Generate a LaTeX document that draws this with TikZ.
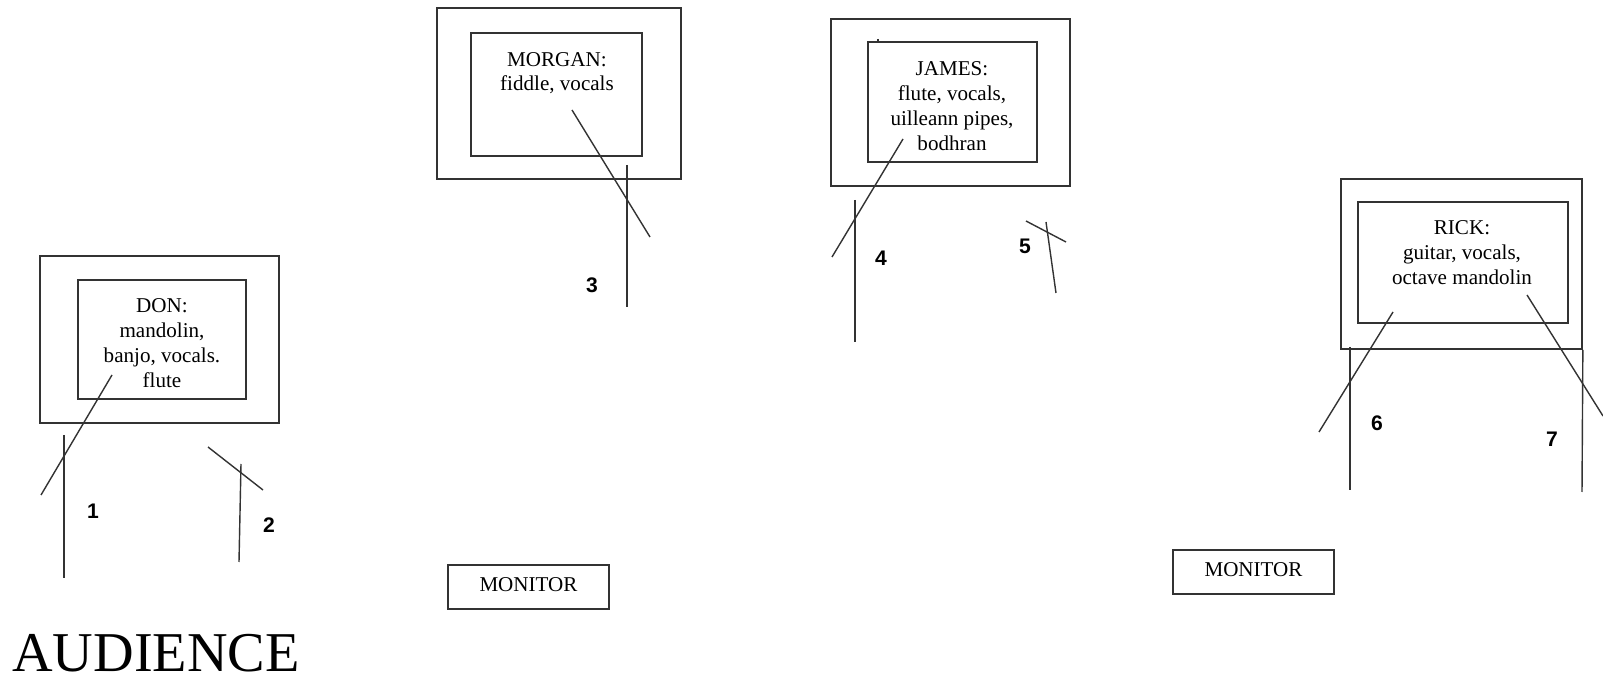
\documentclass[tikz,border=0pt]{standalone}
\usepackage{fontspec}
\setmainfont{Liberation Serif}
\newfontfamily\numfont{Liberation Sans}
\usepackage{tikz}
\tikzstyle{riser} = [rectangle, draw=black!80, line width=1pt, inner sep=0pt]
\tikzstyle{spot} = [rectangle, draw=black!80, line width=1pt, inner sep=0pt]
\tikzstyle{player} = [align=center, inner sep=0pt, anchor=north, font=\fontsize{12}{14.2}\selectfont]
\tikzstyle{monitor} = [rectangle, draw=black!80, line width=0.8pt, minimum width=3.22cm, minimum height=0.88cm, font=\fontsize{12}{14}\selectfont, text height=8pt, text depth=3pt]
\tikzstyle{mic} = [draw=black!80, line width=0.8pt]
\tikzstyle{micnum} = [inner sep=0pt, font=\numfont\bfseries\fontsize{12}{14}\selectfont]

\begin{document}
\begin{tikzpicture}[x=0.02cm, y=-0.02cm]
    \useasboundingbox (0,0) rectangle (1603,678);

    % Risers
    \node (donriser) [riser, minimum width=4.78cm, minimum height=3.34cm] at (159.5,339.5) {};
    \node (morganriser) [riser, line width=1.3pt, minimum width=4.88cm, minimum height=3.42cm] at (559,93.5) {};
    \node (jamesriser) [riser, minimum width=4.78cm, minimum height=3.34cm] at (950.5,102.5) {};
    \node (rickriser) [riser, minimum width=4.82cm, minimum height=3.40cm] at (1461.5,264) {};

    % Players
    \node (donspot) [spot, minimum width=3.36cm, minimum height=2.38cm] at (162,339.5) {};
    \node (morganspot) [spot, line width=1.3pt, minimum width=3.42cm, minimum height=2.46cm] at (556.5,94.5) {};
    \node (jamesspot) [spot, minimum width=3.38cm, minimum height=2.40cm] at (952.5,102) {};
    \node (rickspot) [spot, minimum width=4.20cm, minimum height=2.42cm] at (1463,262.5) {};

    \node (don) [player] at (162,298) {DON:\\mandolin,\\banjo, vocals.\\flute};
    \node (morgan) [player, font=\fontsize{12}{13.6}\selectfont] at (557,52) {MORGAN:\\fiddle, vocals};
    \node (james) [player] at (952,61) {JAMES:\\flute, vocals,\\uilleann pipes,\\bodhran};
    \node (rick) [player] at (1462,220) {RICK:\\guitar, vocals,\\octave mandolin};

    % Mics
    \draw [mic] (112,375) -- (41,495);
    \draw [mic] (64,435) -- (64,578);
    \draw [mic] (208,447) -- (263,490);
    \draw [mic] (241,464) -- (239,562);
    \draw [mic] (572,110) -- (650,237);
    \draw [mic] (627,165) -- (627,307);
    \draw [mic] (878,39) -- (878,43);
    \draw [mic] (903,139) -- (832,257);
    \draw [mic] (855,200) -- (855,342);
    \draw [mic] (1026,221) -- (1066,242);
    \draw [mic] (1046,222) -- (1056,293);
    \draw [mic] (1393,312) -- (1319,432);
    \draw [mic] (1350,347) -- (1350,490);
    \draw [mic] (1527,295) -- (1603,416);
    \draw [mic] (rickriser.south east) -- (1582,492);

    \node (mic1) [micnum] at (93,511) {1};
    \node (mic2) [micnum] at (269,525) {2};
    \node (mic3) [micnum] at (592,285) {3};
    \node (mic4) [micnum] at (881,258) {4};
    \node (mic5) [micnum] at (1025,246) {5};
    \node (mic6) [micnum] at (1377,423) {6};
    \node (mic7) [micnum] at (1552,439) {7};

    % Monitors
    \node (monitorleft) [monitor] at (528.5,587) {MONITOR};
    \node (monitorright) [monitor] at (1253.5,572) {MONITOR};

    % Audience
    \node (audience) [anchor=base west, inner sep=0pt, font=\fontsize{32}{36}\selectfont] at (12,671) {AUDIENCE};
\end{tikzpicture}
\end{document}
